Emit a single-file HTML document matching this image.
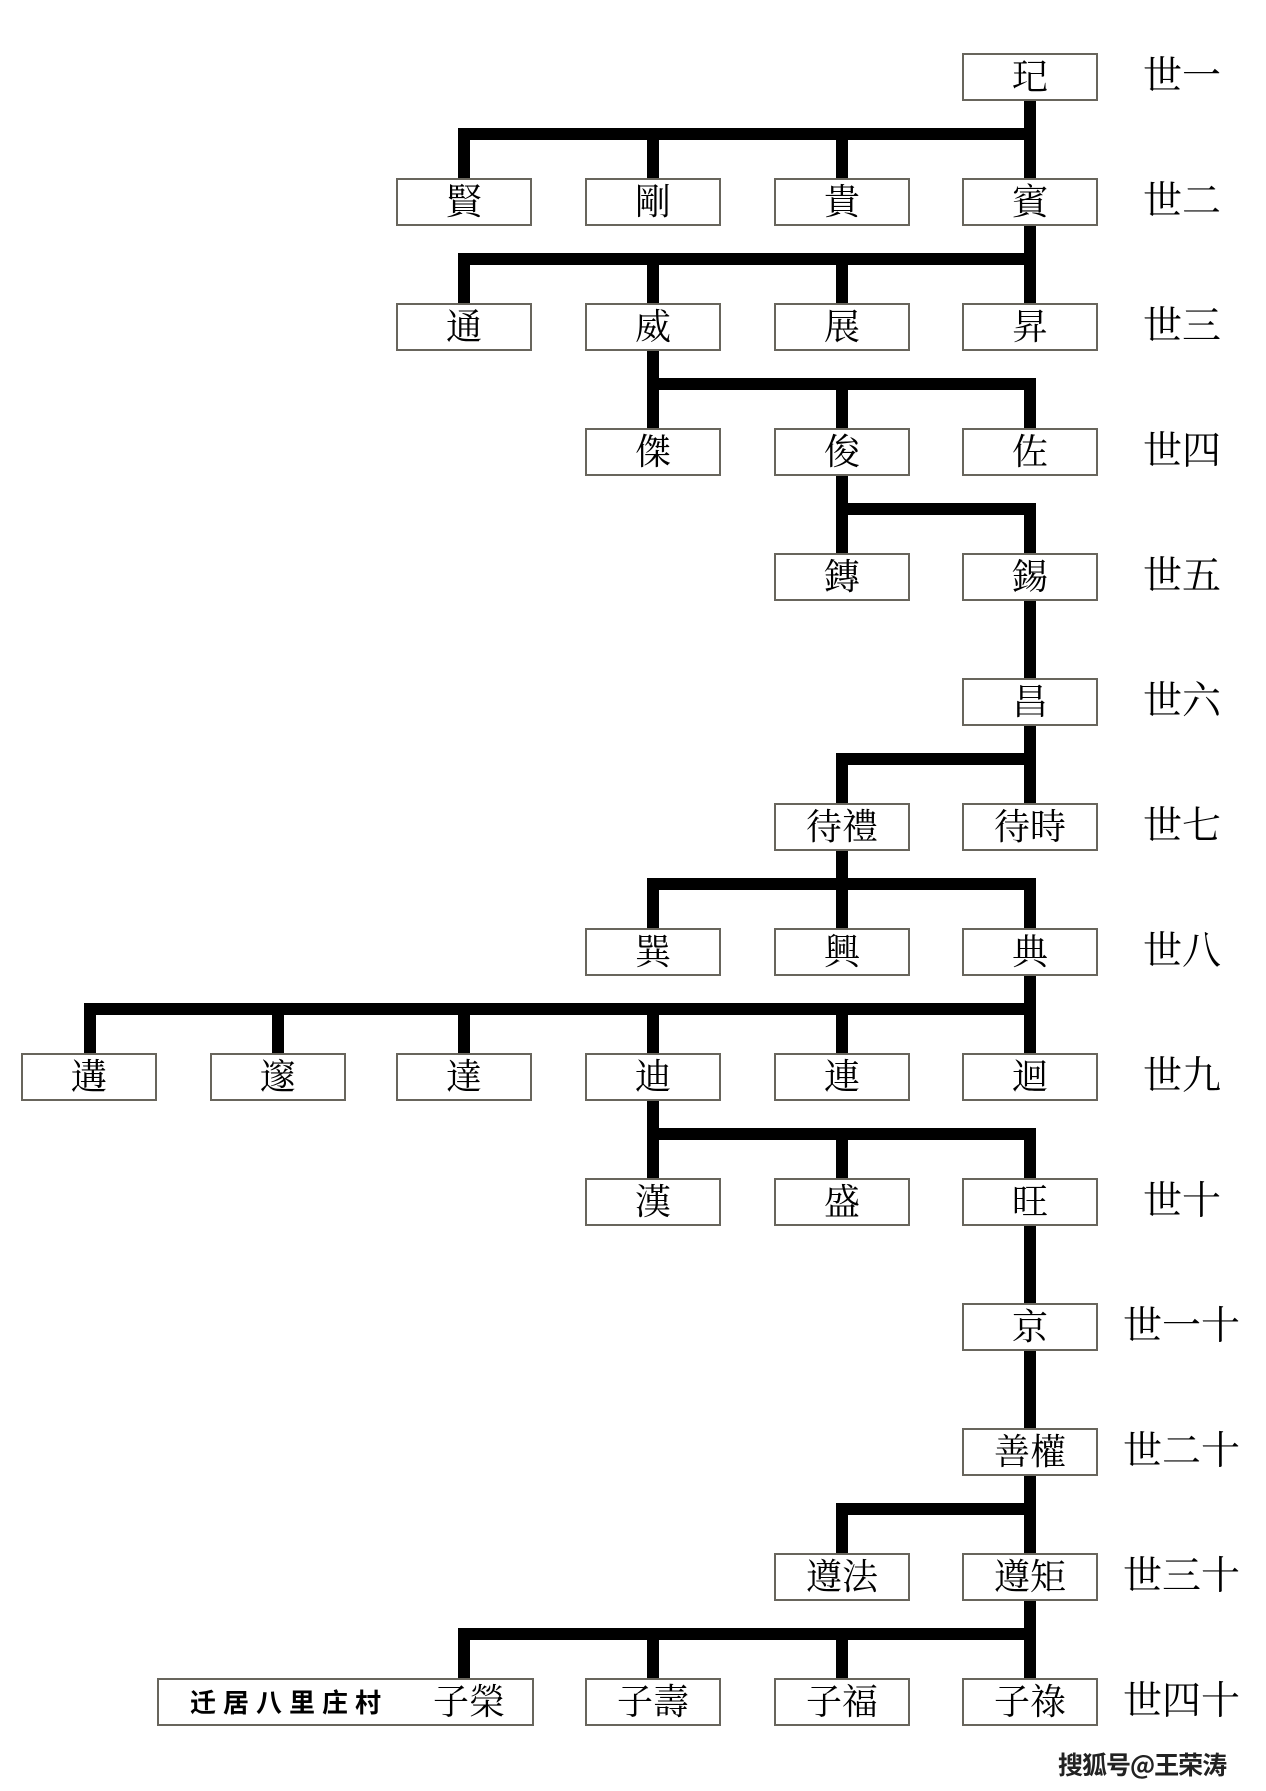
<!DOCTYPE html>
<html><head><meta charset="utf-8">
<style>
html,body{margin:0;padding:0;background:#fff;}
body{width:1266px;height:1791px;position:relative;overflow:hidden;font-family:"Liberation Serif","Noto Serif CJK SC","Noto Sans CJK TC",serif;}
.b{position:absolute;width:132px;height:44px;border:2px solid #68655c;background:#fff;text-align:center;line-height:44px;font-size:36px;color:#000;}
.l{position:absolute;font-size:39px;line-height:48px;color:#000;letter-spacing:0px;}
svg{position:absolute;left:0;top:0;}
</style></head><body>
<svg width="1266" height="1791">
<g stroke="#000" stroke-width="12" fill="none" stroke-linecap="square">
<!-- 1->2 -->
<path d="M1030 101V178 M464 134H1030 M464 134V178 M653 134V178 M842 134V178"/>
<!-- 2->3 -->
<path d="M1030 226V303 M464 259H1030 M464 259V303 M653 259V303 M842 259V303"/>
<!-- 3->4 -->
<path d="M653 351V428 M653 384H1030V428 M842 384V428"/>
<!-- 4->5 -->
<path d="M842 476V553 M842 509H1030V553"/>
<!-- 5->6 -->
<path d="M1030 601V678"/>
<!-- 6->7 -->
<path d="M1030 726V803 M842 759H1030 M842 759V803"/>
<!-- 7->8 -->
<path d="M842 851V928 M653 884H1030 M653 884V928 M1030 884V928"/>
<!-- 8->9 -->
<path d="M1030 976V1053 M90 1009H1030 M90 1009V1053 M278 1009V1053 M464 1009V1053 M653 1009V1053 M842 1009V1053"/>
<!-- 9->10 -->
<path d="M653 1101V1178 M653 1134H1030V1178 M842 1134V1178"/>
<!-- 10->11->12 -->
<path d="M1030 1226V1428"/>
<!-- 12->13 -->
<path d="M1030 1476V1553 M842 1509H1030 M842 1509V1553"/>
<!-- 13->14 -->
<path d="M1030 1601V1678 M464 1634H1030 M464 1634V1678 M653 1634V1678 M842 1634V1678"/>
</g>
</svg>

<div class="b" style="left:962px;top:53px">玘</div>
<div class="l" style="left:1143px;top:53px">世一</div>

<div class="b" style="left:396px;top:178px">賢</div>
<div class="b" style="left:585px;top:178px">剛</div>
<div class="b" style="left:774px;top:178px">貴</div>
<div class="b" style="left:962px;top:178px">賓</div>
<div class="l" style="left:1143px;top:178px">世二</div>

<div class="b" style="left:396px;top:303px">通</div>
<div class="b" style="left:585px;top:303px">威</div>
<div class="b" style="left:774px;top:303px">展</div>
<div class="b" style="left:962px;top:303px">昇</div>
<div class="l" style="left:1143px;top:303px">世三</div>

<div class="b" style="left:585px;top:428px">傑</div>
<div class="b" style="left:774px;top:428px">俊</div>
<div class="b" style="left:962px;top:428px">佐</div>
<div class="l" style="left:1143px;top:428px">世四</div>

<div class="b" style="left:774px;top:553px">鏄</div>
<div class="b" style="left:962px;top:553px">錫</div>
<div class="l" style="left:1143px;top:553px">世五</div>

<div class="b" style="left:962px;top:678px">昌</div>
<div class="l" style="left:1143px;top:678px">世六</div>

<div class="b" style="left:774px;top:803px">待禮</div>
<div class="b" style="left:962px;top:803px">待時</div>
<div class="l" style="left:1143px;top:803px">世七</div>

<div class="b" style="left:585px;top:928px">巽</div>
<div class="b" style="left:774px;top:928px">興</div>
<div class="b" style="left:962px;top:928px">典</div>
<div class="l" style="left:1143px;top:928px">世八</div>

<div class="b" style="left:21px;top:1053px">遘</div>
<div class="b" style="left:210px;top:1053px">邃</div>
<div class="b" style="left:396px;top:1053px">達</div>
<div class="b" style="left:585px;top:1053px">迪</div>
<div class="b" style="left:774px;top:1053px">連</div>
<div class="b" style="left:962px;top:1053px">迴</div>
<div class="l" style="left:1143px;top:1053px">世九</div>

<div class="b" style="left:585px;top:1178px">漢</div>
<div class="b" style="left:774px;top:1178px">盛</div>
<div class="b" style="left:962px;top:1178px">旺</div>
<div class="l" style="left:1143px;top:1178px">世十</div>

<div class="b" style="left:962px;top:1303px">京</div>
<div class="l" style="left:1123px;top:1303px">世一十</div>

<div class="b" style="left:962px;top:1428px">善權</div>
<div class="l" style="left:1123px;top:1428px">世二十</div>

<div class="b" style="left:774px;top:1553px">遵法</div>
<div class="b" style="left:962px;top:1553px">遵矩</div>
<div class="l" style="left:1123px;top:1553px">世三十</div>

<div class="b" style="left:157px;top:1678px;width:373px;text-align:left;">
  <span style="position:absolute;left:31px;top:0;font-size:26px;font-weight:bold;letter-spacing:7px;font-family:'Noto Sans CJK SC',sans-serif;">迁居八里庄村</span>
  <span style="position:absolute;left:274px;top:0;">子榮</span>
</div>
<div class="b" style="left:585px;top:1678px">子壽</div>
<div class="b" style="left:774px;top:1678px">子福</div>
<div class="b" style="left:962px;top:1678px">子祿</div>
<div class="l" style="left:1123px;top:1678px">世四十</div>

<div style="position:absolute;left:1058px;top:1748px;font-size:25px;line-height:32px;font-weight:bold;color:#222;font-family:'Noto Sans CJK SC',sans-serif;letter-spacing:-1px;">搜狐号@王荣涛</div>
</body></html>
